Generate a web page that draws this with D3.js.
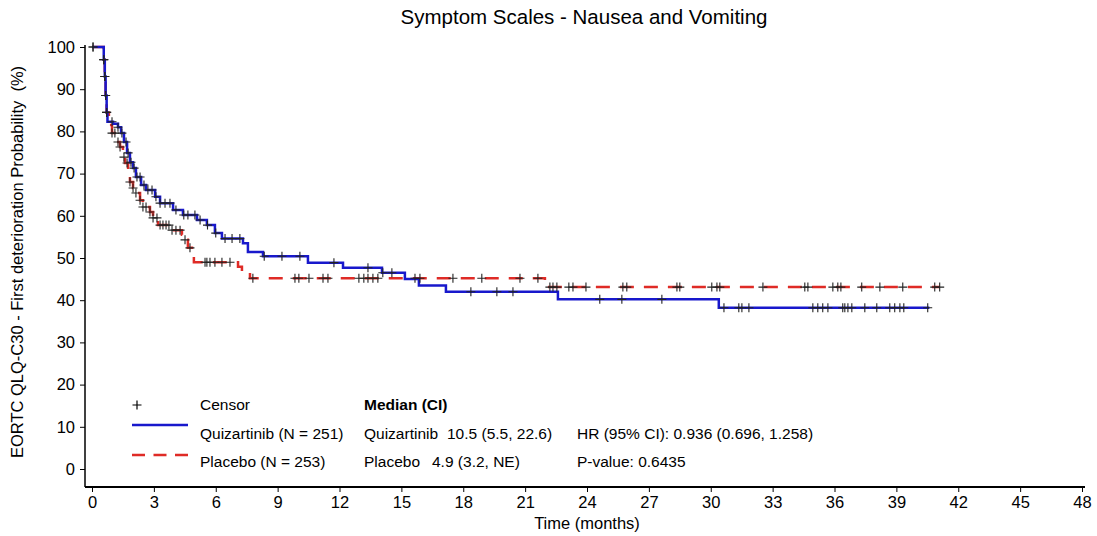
<!DOCTYPE html>
<html>
<head>
<meta charset="utf-8">
<script src="https://cdn.jsdelivr.net/npm/d3@7"></script>
<style>
  html, body { margin: 0; padding: 0; background: #fff; }
  svg { display: block; font-family: "Liberation Sans", Arial, Helvetica, sans-serif; }
</style>
</head>
<body>
<svg id="chart" width="1097" height="536"></svg>
<script>
// Kaplan-Meier estimates: time (months) of each event step and survival (%) after it
const quizStepTimes = [0.57, 0.62, 0.66, 0.71, 0.75, 1.02, 1.26, 1.41, 1.55, 1.70, 1.84, 1.99, 2.13, 2.38, 2.62, 3.06, 3.30, 3.93, 4.41, 5.09, 5.57, 5.96, 6.30, 7.32, 7.56, 8.29, 10.47, 12.17, 14.06, 15.17, 15.85, 17.16, 22.59, 30.39];
const quizStepValues = [97, 93, 88.5, 84.5, 82.3, 81.8, 81.0, 79.6, 77.5, 74.9, 72.7, 71.3, 69.2, 67.3, 66.1, 64.5, 63.0, 61.4, 60.2, 59.0, 57.8, 55.9, 54.6, 53.5, 51.4, 50.4, 48.9, 47.7, 46.5, 45.0, 43.5, 42.0, 40.2, 38.2];
const quizLastTime = 40.6;

const placStepTimes = [0.57, 0.62, 0.66, 0.71, 0.82, 0.97, 1.16, 1.36, 1.50, 1.60, 1.75, 1.84, 1.99, 2.13, 2.33, 2.47, 2.81, 2.96, 3.20, 3.78, 4.36, 4.51, 4.65, 4.85, 4.94, 7.08, 7.27, 7.66, 21.96];
const placStepValues = [97, 93, 88.5, 84.5, 81.5, 79.6, 77.5, 76.3, 73.9, 72.5, 69.2, 68.0, 66.6, 65.4, 63.7, 62.1, 60.9, 59.5, 57.8, 56.6, 55.5, 54.3, 52.4, 50.7, 49.0, 47.9, 46.7, 45.2, 43.1];
const placLastTime = 41.1;

// Censoring times (months)
const quizCensorTimes = [0.05, 0.57, 0.62, 0.66, 0.71, 0.97, 1.26, 1.45, 1.65, 1.75, 1.89, 2.04, 2.18, 2.33, 2.52, 2.71, 2.91, 3.10, 3.30, 3.54, 3.78, 4.07, 4.45, 4.65, 4.99, 5.24, 5.60, 6.00, 6.45, 6.79, 7.17, 8.35, 9.21, 10.08, 11.73, 13.38, 14.10, 14.54, 18.37, 19.63, 20.41, 24.62, 25.69, 27.63, 30.64, 31.36, 31.51, 31.85, 34.95, 35.19, 35.43, 35.68, 36.40, 36.50, 36.65, 36.84, 37.47, 38.05, 38.68, 38.92, 39.17, 39.36, 40.52];
const placCensorTimes = [0.05, 0.57, 0.62, 0.66, 0.71, 0.97, 1.11, 1.26, 1.36, 1.55, 1.70, 1.84, 1.99, 2.13, 2.33, 2.47, 2.62, 2.81, 2.96, 3.15, 3.30, 3.44, 3.59, 3.73, 3.88, 4.07, 4.27, 4.51, 4.75, 5.48, 5.57, 5.72, 5.96, 6.30, 6.69, 7.80, 9.84, 10.03, 10.52, 11.20, 11.44, 12.94, 13.18, 13.38, 13.62, 13.86, 15.66, 15.90, 17.50, 18.90, 20.75, 21.62, 22.20, 22.35, 22.54, 23.12, 23.32, 23.95, 25.74, 25.93, 28.36, 28.50, 30.05, 30.30, 30.44, 32.53, 34.56, 34.71, 35.92, 36.16, 36.31, 37.32, 38.20, 39.31, 40.86, 41.10];

// Axis ticks
const xTicks = [0, 3, 6, 9, 12, 15, 18, 21, 24, 27, 30, 33, 36, 39, 42, 45, 48];
const yTicks = [0, 10, 20, 30, 40, 50, 60, 70, 80, 90, 100];

// Legend / summary text
const titleText = "Symptom Scales - Nausea and Vomiting";
const yLabelText = "EORTC QLQ-C30 - First deterioration Probability\u00a0 (%)";
const xLabelText = "Time (months)";
const armLabels = ["Quizartinib (N = 251)", "Placebo (N = 253)"];
const armNames = ["Quizartinib", "Placebo"];
const medianTexts = ["10.5 (5.5, 22.6)", "4.9 (3.2, NE)"];
const statTexts = ["HR (95% CI): 0.936 (0.696, 1.258)", "P-value: 0.6435"];

const BLUE = "#1818cc";
const RED = "#df2b26";
const FONT = "\"Liberation Sans\", Arial, Helvetica, sans-serif";

const svg = d3.select("#chart");

const x = d3.scaleLinear().domain([0, 48]).range([92, 1082]);
const y = d3.scaleLinear().domain([0, 100]).range([469, 47]);
const axisLeftX = 85;
const axisBottomY = 487;

function buildCurve(times, values, lastTime) {
  const pts = [{ t: 0, s: 100 }];
  times.forEach((t, i) => pts.push({ t, s: values[i] }));
  pts.push({ t: lastTime, s: values[values.length - 1] });
  return pts;
}
function survivalAt(times, values, t) {
  let s = 100;
  for (let i = 0; i < times.length; i++) {
    if (times[i] <= t) s = values[i]; else break;
  }
  return s;
}

const line = d3.line()
  .x(d => x(d.t))
  .y(d => y(d.s))
  .curve(d3.curveStepAfter);

// Title
svg.append("text")
  .attr("x", 584).attr("y", 24)
  .attr("text-anchor", "middle")
  .attr("font-size", 20.5)
  .attr("fill", "#000")
  .text(titleText);

// Y axis
const yAxis = svg.append("g")
  .attr("transform", `translate(${axisLeftX},0)`)
  .call(d3.axisLeft(y).tickValues(yTicks).tickSize(5).tickPadding(5));
yAxis.select(".domain").remove();
yAxis.selectAll(".tick line").attr("stroke", "#000");
yAxis.selectAll(".tick text").attr("font-size", 16.5).attr("font-family", FONT).attr("fill", "#000");
svg.append("line")
  .attr("x1", axisLeftX).attr("x2", axisLeftX)
  .attr("y1", y(100) - 2).attr("y2", axisBottomY)
  .attr("stroke", "#000").attr("stroke-width", 1.5);

// X axis
const xAxis = svg.append("g")
  .attr("transform", `translate(0,${axisBottomY})`)
  .call(d3.axisBottom(x).tickValues(xTicks).tickSize(5).tickPadding(4));
xAxis.select(".domain").remove();
xAxis.selectAll(".tick line").attr("stroke", "#000");
xAxis.selectAll(".tick text").attr("font-size", 16.5).attr("font-family", FONT).attr("fill", "#000");
svg.append("line")
  .attr("x1", axisLeftX).attr("x2", 1085)
  .attr("y1", axisBottomY).attr("y2", axisBottomY)
  .attr("stroke", "#000").attr("stroke-width", 2.2);

// Axis titles
svg.append("text")
  .attr("x", 587).attr("y", 529)
  .attr("text-anchor", "middle")
  .attr("font-size", 16.5)
  .text(xLabelText);
svg.append("text")
  .attr("transform", "translate(23,262) rotate(-90)")
  .attr("text-anchor", "middle")
  .attr("font-size", 16.5)
  .text(yLabelText);

// Survival curves
const plot = svg.append("g");
plot.append("path")
  .datum(buildCurve(placStepTimes, placStepValues, placLastTime))
  .attr("d", line)
  .attr("fill", "none")
  .attr("stroke", RED)
  .attr("stroke-width", 2.5)
  .attr("stroke-dasharray", "14,10");
plot.append("path")
  .datum(buildCurve(quizStepTimes, quizStepValues, quizLastTime))
  .attr("d", line)
  .attr("fill", "none")
  .attr("stroke", BLUE)
  .attr("stroke-width", 2.5);

// Censor marks
const crossPath = "M-4.5,0H4.5M0,-4.5V4.5";
function drawCensors(times, stepTimes, stepValues) {
  plot.append("g").selectAll("path")
    .data(times)
    .join("path")
    .attr("transform", t => `translate(${x(t)},${y(survivalAt(stepTimes, stepValues, t))})`)
    .attr("d", crossPath)
    .attr("stroke", "#222")
    .attr("stroke-width", 1.1)
    .attr("fill", "none");
}
drawCensors(placCensorTimes, placStepTimes, placStepValues);
drawCensors(quizCensorTimes, quizStepTimes, quizStepValues);

// Legend
const leg = svg.append("g").attr("font-size", 15.5).attr("fill", "#000");
leg.append("path").attr("d", crossPath).attr("transform", "translate(137,405)")
  .attr("stroke", "#000").attr("stroke-width", 1.2);
leg.append("text").attr("x", 200).attr("y", 410).text("Censor");
leg.append("line").attr("x1", 132).attr("x2", 188).attr("y1", 425).attr("y2", 425)
  .attr("stroke", BLUE).attr("stroke-width", 2.5);
leg.append("line").attr("x1", 132).attr("x2", 188).attr("y1", 455).attr("y2", 455)
  .attr("stroke", RED).attr("stroke-width", 2.5).attr("stroke-dasharray", "13,8.5");
leg.append("text").attr("x", 200).attr("y", 439).text(armLabels[0]);
leg.append("text").attr("x", 200).attr("y", 467).text(armLabels[1]);

leg.append("text").attr("x", 364).attr("y", 410).attr("font-weight", "bold").text("Median (CI)");
leg.append("text").attr("x", 364).attr("y", 439).text(armNames[0]);
leg.append("text").attr("x", 447).attr("y", 439).text(medianTexts[0]);
leg.append("text").attr("x", 364).attr("y", 467).text(armNames[1]);
leg.append("text").attr("x", 432).attr("y", 467).text(medianTexts[1]);

leg.append("text").attr("x", 577).attr("y", 439).text(statTexts[0]);
leg.append("text").attr("x", 577).attr("y", 467).text(statTexts[1]);
</script>
</body>
</html>
